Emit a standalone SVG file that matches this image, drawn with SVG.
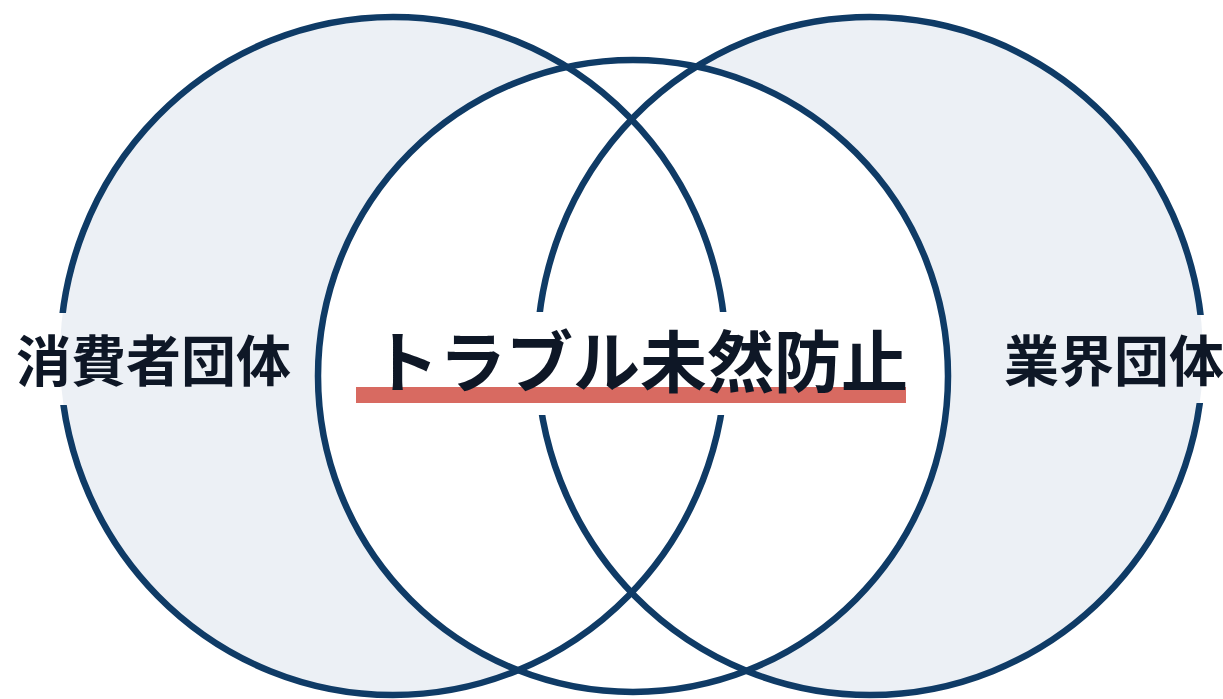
<svg xmlns="http://www.w3.org/2000/svg" width="1223" height="699" viewBox="0 0 1223 699">
  <style>
    .side { fill: #ECF0F5; }
    .mid { fill: #FFFFFF; }
    .ring { fill: none; stroke: #0F3B66; stroke-width: 6.5; }
    .lbl { font-family: "Noto Sans CJK JP", "Noto Sans CJK SC", sans-serif; font-weight: 700; fill: #0E1726; }
  </style>
  <defs>
    <mask id="gaps" maskUnits="userSpaceOnUse" x="0" y="0" width="1223" height="699">
      <rect x="0" y="0" width="1223" height="699" fill="#fff"/>
      <rect x="40" y="313" width="60" height="92" fill="#000"/>
      <rect x="1160" y="315" width="63" height="88" fill="#000"/>
      <rect x="500" y="312" width="260" height="103" fill="#000"/>
    </mask>
  </defs>
  <rect x="0" y="0" width="1223" height="699" fill="#FFFFFF"/>
  <g id="fills">
    <ellipse class="side" cx="393" cy="356" rx="333" ry="339"/>
    <ellipse class="side" cx="870" cy="356" rx="333" ry="339"/>
    <ellipse class="mid" cx="633" cy="376" rx="315" ry="316"/>
  </g>
  <g id="rings" mask="url(#gaps)">
    <ellipse class="ring" cx="393" cy="356" rx="333" ry="339"/>
    <ellipse class="ring" cx="870" cy="356" rx="333" ry="339"/>
    <ellipse class="ring" cx="633" cy="376" rx="315" ry="316"/>
  </g>
  <g id="node-consumer">
    <text class="lbl" x="16" y="381" font-size="55">消費者団体</text>
  </g>
  <g id="node-center">
    <rect x="356" y="387" width="550" height="16" fill="#D86A61"/>
    <text class="lbl" x="372" y="387" font-size="67">トラブル未然防止</text>
  </g>
  <g id="node-industry">
    <text class="lbl" x="1004" y="381" font-size="55">業界団体</text>
  </g>
  <g id="connectors"></g>
</svg>
